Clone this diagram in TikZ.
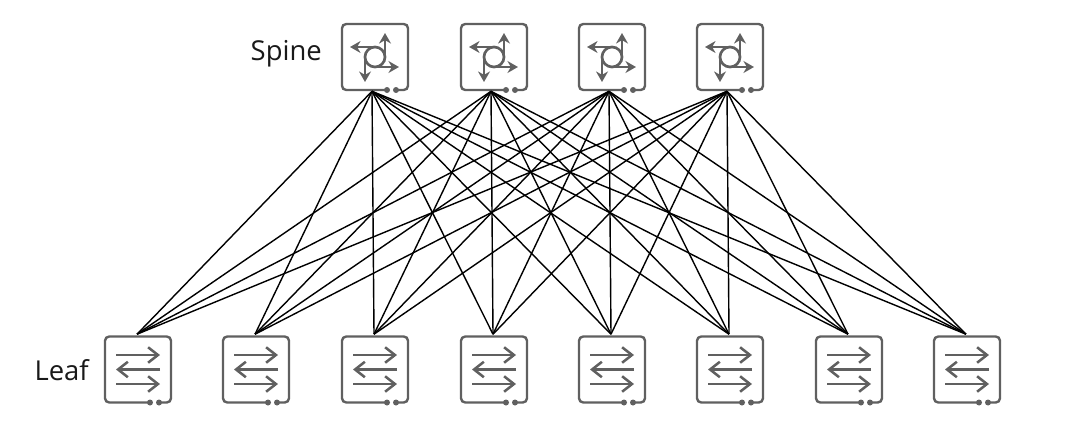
\documentclass[tikz,border=0pt]{standalone}
\usepackage{fontspec}
\setmainfont{Open Sans}
\usetikzlibrary{arrows.meta, positioning}
\definecolor{iconcolor}{RGB}{96,96,96}
\tikzset{
  devnode/.style = {rectangle, minimum size=1.65cm, inner sep=0pt},
  label/.style   = {font=\fontsize{19.5}{22}\selectfont, text=black!90, inner sep=0pt},
  frame/.style   = {draw=iconcolor, line width=1.7pt, rounded corners=3pt},
  spinearrow/.style = {draw=iconcolor, line width=1.9pt, -{Stealth[length=7.5pt,width=8.5pt]}},
  leafarrow/.style  = {draw=iconcolor, line width=1.8pt, -{Straight Barb[length=7pt,width=11pt]}},
  link/.style    = {draw=black, line width=1pt},
  devframe/.pic  = {
    \path[frame] (21,33) -- (33,33) -- (33,-33) -- (-33,-33) -- (-33,33) -- (12,33);
    \fill[iconcolor] (12,33) circle (3);
    \fill[iconcolor] (21,33) circle (3);
  },
  spineicon/.pic = {
    \pic {devframe};
    \draw[iconcolor, line width=1.9pt] (0,0) circle (10);
    \path[spinearrow] (0,-10) -- (-25,-10);
    \path[spinearrow] (10,0) -- (10,-24);
    \path[spinearrow] (0,10) -- (24,10);
    \path[spinearrow] (-10,0) -- (-10,25);
  },
  leaficon/.pic  = {
    \pic {devframe};
    \path[leafarrow] (-22,-14.5) -- (22,-14.5);
    \path[leafarrow] (22,0) -- (-22,0);
    \path[leafarrow] (-22,14.5) -- (22,14.5);
  },
}

\begin{document}
\begin{tikzpicture}[x=0.025cm, y=-0.025cm]
  \useasboundingbox (0,0) rectangle (1080,434);
  % spine row
  \foreach \i/\x in {1/375, 2/494, 3/612, 4/730} {
    \node[devnode] (spine\i) at (\x,57) {};
    \pic at (spine\i) {spineicon};
    \coordinate (port\i) at ([xshift=-0.075cm, yshift=-0.025cm]spine\i.south);
  }
  % leaf row
  \foreach \j/\x in {1/138, 2/256, 3/375, 4/494, 5/612, 6/730, 7/849, 8/967} {
    \node[devnode] (leaf\j) at (\x,369.5) {};
    \pic at (leaf\j) {leaficon};
  }
  % full mesh
  \foreach \i in {1,...,4} {
    \foreach \j in {1,...,8} {
      \draw[link] (port\i) -- ([xshift=-0.025cm, yshift=0.05cm]leaf\j.north);
    }
  }
  \node[label, anchor=east] (spinelabel) at (322,54) {Spine};
  \node[label, anchor=east] (leaflabel) at (89,370) {Leaf};
\end{tikzpicture}
\end{document}
